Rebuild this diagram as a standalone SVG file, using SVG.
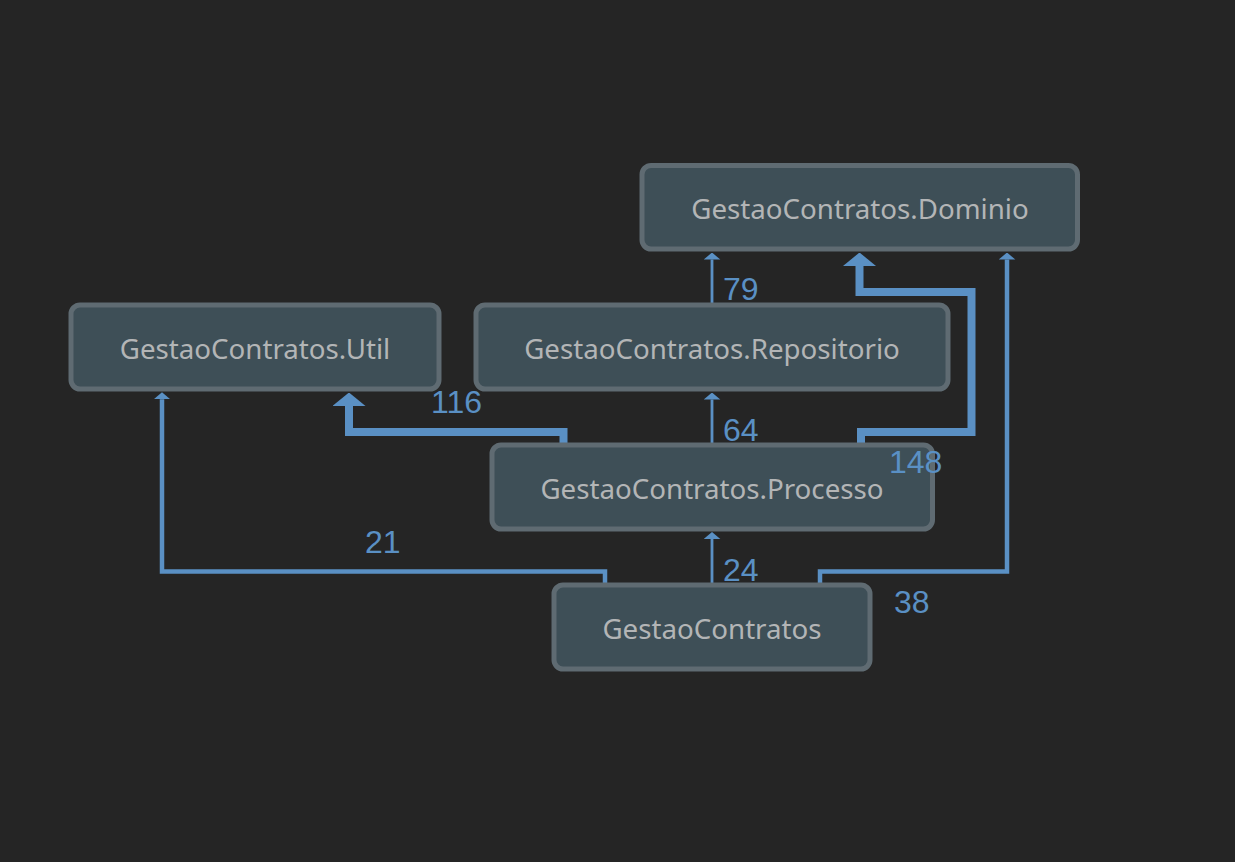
<svg xmlns="http://www.w3.org/2000/svg" width="1235" height="862" viewBox="0 0 1235 862">
<style>
.node rect{fill:#3e4f57;stroke:#5f6b72;stroke-width:5}
.node text{font-family:"Noto Sans","Open Sans",sans-serif;font-size:27.7px;fill:#b3b5b6;text-anchor:middle}
.edge path{fill:none;stroke:#5a90c4;stroke-linejoin:miter;stroke-linecap:butt}
.thin{stroke-width:2.8}
.mid{stroke-width:4.5}
.thick{stroke-width:8}
.lbl{font-family:"Liberation Sans",Arial,sans-serif;font-size:32px;fill:#5a90c4}
</style>
<defs>
<marker id="hs" markerUnits="userSpaceOnUse" viewBox="0 -8.5 7 17" refX="0" refY="0" markerWidth="7" markerHeight="17" orient="auto"><path d="M0,-8.3 L7,0 L0,8.3 z" fill="#5a90c4"/></marker>
<marker id="hl" markerUnits="userSpaceOnUse" viewBox="0 -16.5 13.5 33" refX="0" refY="0" markerWidth="13.5" markerHeight="33" orient="auto"><path d="M0,-16.5 L13.5,0 L0,16.5 z" fill="#5a90c4"/></marker>
</defs>
<rect width="1235" height="862" fill="#252525"/>
<g id="connectors" class="edge">
<path class="thin" d="M712 304 V259.5" marker-end="url(#hs)"/>
<path class="thin" d="M712 444 V399.5" marker-end="url(#hs)"/>
<path class="thin" d="M712 584 V539" marker-end="url(#hs)"/>
<path class="mid" d="M605 584 V571.5 H162 V399.3" marker-end="url(#hs)"/>
<path class="mid" d="M820 584 V571.5 H1007 V259.5" marker-end="url(#hs)"/>
<path class="thick" d="M563.5 444 V432 H349 V406" marker-end="url(#hl)"/>
<path class="thick" d="M861 444 V432 H971.5 V292 H859.5 V266" marker-end="url(#hl)"/>
</g>
<g id="dominio" class="node"><rect x="642" y="165.5" width="435.5" height="83.5" rx="9"/><text x="860" y="219">GestaoContratos.Dominio</text></g>
<g id="util" class="node"><rect x="71" y="305" width="368" height="84" rx="9"/><text x="255" y="359">GestaoContratos.Util</text></g>
<g id="repositorio" class="node"><rect x="476" y="305" width="472" height="84" rx="9"/><text x="712" y="359">GestaoContratos.Repositorio</text></g>
<g id="processo" class="node"><rect x="492" y="445" width="440.5" height="84" rx="9"/><text x="712" y="499">GestaoContratos.Processo</text></g>
<g id="gestaocontratos" class="node"><rect x="554" y="585" width="316" height="84" rx="9"/><text x="712" y="639">GestaoContratos</text></g>
<g id="connector-labels">
<text class="lbl" x="723" y="300">79</text>
<text class="lbl" x="723" y="441">64</text>
<text class="lbl" x="723" y="581">24</text>
<text class="lbl" x="431" y="413">116</text>
<text class="lbl" x="889" y="473">148</text>
<text class="lbl" x="365" y="553">21</text>
<text class="lbl" x="894" y="613">38</text>
</g>
</svg>
